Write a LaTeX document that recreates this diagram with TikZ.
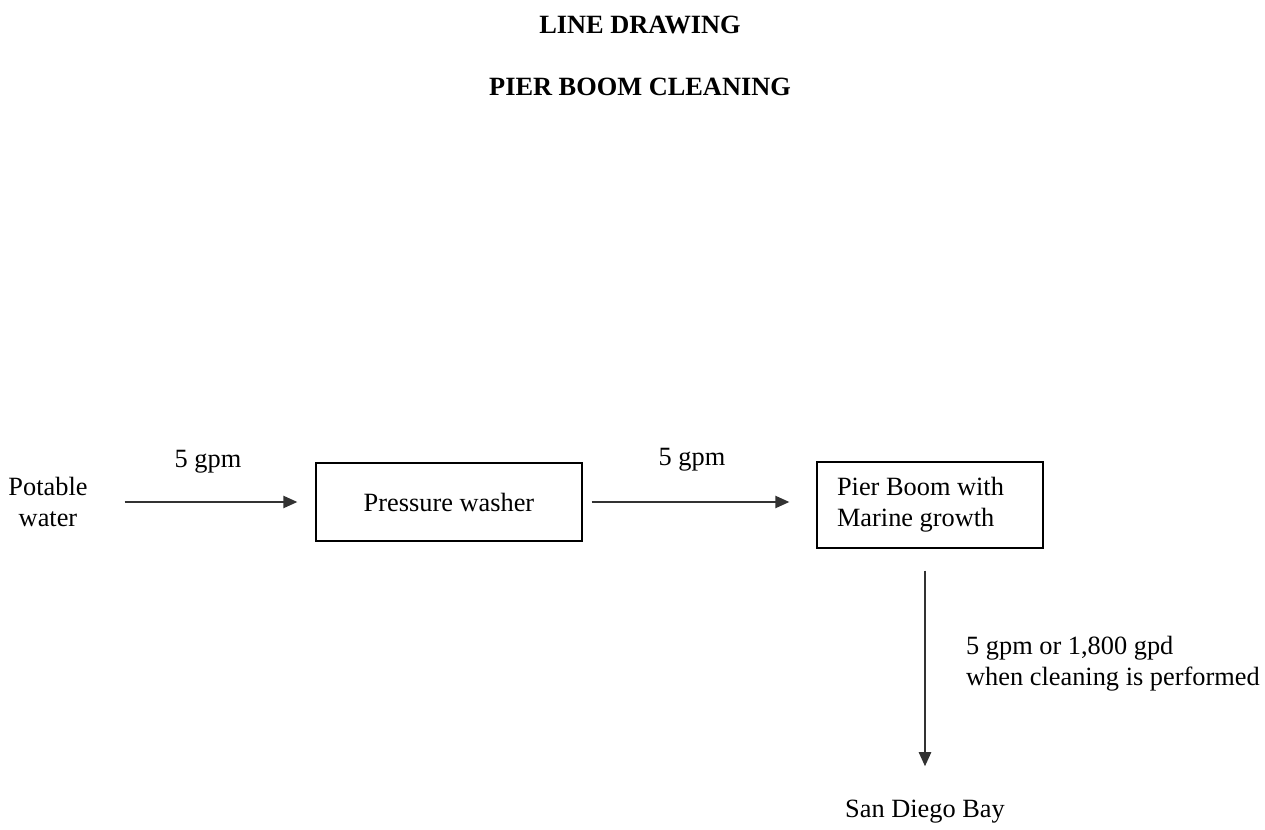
\documentclass[tikz,border=0pt]{standalone}
\usepackage{fontspec}
\setmainfont{Liberation Serif}
\usepackage{tikz}
\usetikzlibrary{shapes}
\usetikzlibrary{arrows.meta}
\usetikzlibrary{calc}
\tikzset{node distance=2cm, auto}
\definecolor{linegray}{RGB}{50,50,50}
\tikzset{
  flow/.style={draw=linegray, line width=0.9pt, -{Triangle[length=8pt,width=7pt]}},
  unitbox/.style={draw=black, line width=0.8pt, inner sep=0pt}
}

\begin{document}
\begin{tikzpicture}[x=0.02cm,y=-0.02cm,font=\fontsize{15}{17.6}\selectfont]
\useasboundingbox (0,0) rectangle (1265,829);

\node[font=\fontsize{15}{17.6}\selectfont\bfseries] (title1) at (640,25) {LINE DRAWING};
\node[font=\fontsize{15}{17.6}\selectfont\bfseries] (title2) at (640,87) {PIER BOOM CLEANING};

\node[align=center] (water) at (48,502) {Potable\\water};
\node[unitbox, minimum width=5.32cm, minimum height=1.56cm] (washer) at (449,502) {Pressure washer};
\node[unitbox, minimum width=4.52cm, minimum height=1.72cm, text width=3.72cm, align=flush left] (boom) at (930,505) {Pier Boom with\\Marine growth};
\node (bay) at (925,812) {San Diego Bay};

\node (rate1) at (208,462) {5 gpm};
\node (rate2) at (692,460) {5 gpm};
\node[anchor=west, align=flush left] (rate3) at (960,664) {5 gpm or 1,800 gpd\\when cleaning is performed};

\draw[flow, shorten <=0.62cm, shorten >=0.36cm] (water.east) -- (washer.west);
\draw[flow, shorten <=0.18cm, shorten >=0.54cm] (washer.east) -- (washer.east -| boom.west);
\draw[flow, shorten <=0.44cm, shorten >=0.56cm] (boom.south -| bay.north) -- (bay.north);

\end{tikzpicture}
\end{document}
